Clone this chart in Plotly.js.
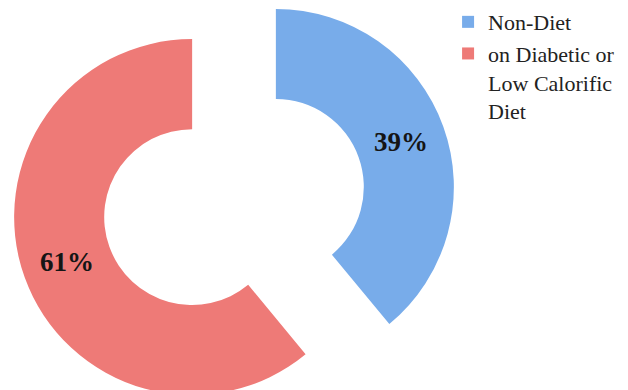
<!DOCTYPE html>
<html>
<head>
<meta charset="utf-8">
<script src="https://cdn.plot.ly/plotly-3.0.1.min.js"></script>
<style>
html, body { margin: 0; padding: 0; overflow: hidden; width: 628px; height: 390px; background: #fff; }
#chart { position: absolute; left: 0; top: -30px; width: 628px; height: 460px; }
</style>
</head>
<body>
<div id="chart"></div>
<script>
const labels = ["Non-Diet", "on Diabetic or<br>Low Calorific<br>Diet"];
const values = [39, 61];
const colors = ["#78acea", "#ee7a77"];

const serif = "Liberation Serif";
const legendSerif = "Times New Roman";

const trace = {
  type: "pie",
  labels: labels,
  values: values,
  sort: false,
  direction: "clockwise",
  rotation: 0,
  hole: 0.494,
  pull: [0.25, 0.25],
  marker: { colors: colors, line: { width: 0 } },
  textinfo: "percent",
  textposition: "inside",
  insidetextorientation: "horizontal",
  textfont: { family: serif, size: 27, weight: "bold", color: "#151515" },
  domain: { x: [0.01831, 0.72691], y: [0.01196, 0.97935] },
  hoverinfo: "label+percent"
};

const layout = {
  width: 628,
  height: 460,
  margin: { l: 0, r: 0, t: 0, b: 0 },
  paper_bgcolor: "#ffffff",
  font: { family: legendSerif, color: "#222222" },
  showlegend: true,
  legend: {
    x: 0.7135, y: 0.9325, xanchor: "left", yanchor: "top",
    valign: "top",
    bgcolor: "rgba(0,0,0,0)",
    font: { family: legendSerif, size: 22, color: "#222222" }
  }
};

Plotly.newPlot("chart", [trace], layout, { displayModeBar: false, staticPlot: true });
</script>
</body>
</html>
